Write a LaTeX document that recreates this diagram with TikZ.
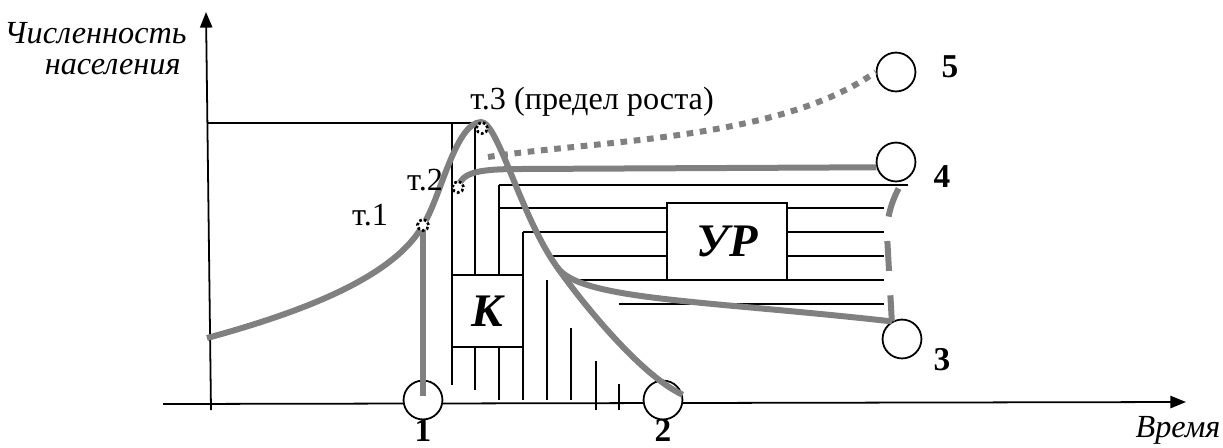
\documentclass[tikz,border=0pt]{standalone}
\usepackage{fontspec}
\setmainfont{Liberation Serif}
\usetikzlibrary{arrows.meta}
\definecolor{ink}{HTML}{000000}
\definecolor{curve}{HTML}{808080}
\tikzset{
  font=\fontsize{14.5}{17}\selectfont,
  >={Triangle[length=7pt, width=5.5pt]},
  %
  axis/.style={draw=ink, line width=0.8pt, ->},
  grid/.style={draw=ink, line width=0.8pt},
  outcome/.style={circle, draw=ink, line width=0.8pt, fill=white,
                  minimum size=17.5pt, inner sep=0pt},
  tpoint/.style={circle, draw=ink, densely dotted, line width=1.2pt,
                 fill=white, minimum size=5pt, inner sep=0pt},
  block/.style={draw=ink, line width=0.8pt, fill=white, inner sep=0pt,
                font=\fontsize{21}{24}\selectfont\bfseries\itshape},
  %
  trend/.style={draw=curve, line width=2.7pt},
  trenddot/.style={trend, dash pattern=on 3pt off 3pt},
  trenddash/.style={trend, dash pattern=on 13.5pt off 11pt, dash phase=20.9pt},
  %
  lbl/.style={inner sep=0pt},
  num/.style={lbl, font=\fontsize{15}{17}\selectfont\bfseries},
  axlbl/.style={lbl, font=\fontsize{14.5}{17}\selectfont\itshape},
}

\begin{document}
\begin{tikzpicture}[x=0.45pt, y=-0.45pt]
\useasboundingbox (0,0) rectangle (1223,447);

% axes
\draw[axis] (163,404) -- (1186,402);
\draw[axis] (211,410) -- (206,12);

% growth limit and hatching
\draw[grid] (207,123) -- (475,123);
\foreach \x/\a/\b in {452/123/385, 475/123/390, 499/185/400, 523/232/400,
                      547/280/400, 571/328/400, 596/361/410, 619/384/410}
  \draw[grid] (\x,\a) -- (\x,\b);
\foreach \y/\a/\b in {185/499/908, 208/499/884, 232/523/884,
                      256/547/884, 280/571/884, 304/619/884}
  \draw[grid] (\a,\y) -- (\b,\y);

\node[block, minimum width=32pt, minimum height=32.4pt] (K) at (487.5,311) {К};
\node[block, minimum width=54pt, minimum height=34.7pt] (UR) at (727,241.5) {УР};

% outcomes
\node[outcome] (c1) at (423,400) {};
\node[outcome] (c2) at (663,400) {};
\node[outcome] (c3) at (902,339) {};
\node[outcome] (c4) at (896,162) {};
\node[outcome] (c5) at (896,72) {};

\coordinate (s0) at (207,338);
\coordinate (p1) at (423,225);
\coordinate (p2) at (458,187);
\coordinate (p3) at (482,128);
\coordinate (top) at (481,122);
\coordinate (split) at (557,267);
\coordinate (lim) at (488,157);

% population curves
\draw[trend] (s0) .. controls (310,310) and (395,275) .. (p1)
  .. controls (440,200) and (455,123) .. (top)
  .. controls (498,122) and (520,215) .. (split)
  .. controls (580,300) and (640,375) .. (c2.15);
\draw[trend] (p1) -- ([yshift=2pt]c1.center);
\draw[trend] (p2) .. controls (462,172) and (480,169) .. (520,169) -- (c4.195);
\draw[trend] (split) .. controls (580,300) and (700,300) .. (c3.120);
\draw[trenddot] (lim) .. controls (600,140) and (780,140) .. (c5.west);
\draw[trenddash] (c4.-72) .. controls (895,195) and (887,210) .. (887,235) -- (c3.120);

\node[tpoint] (m1) at (p1) {};
\node[tpoint] (m2) at (p2) {};
\node[tpoint] (m3) at (p3) {};

% labels
\node[lbl] (l1) at (370,215) {т.1};
\node[lbl] (l2) at (425,180) {т.2};
\node[lbl] (l3) at (592,102) {т.3 (предел роста)};
\node[num] (n1) at (423,430) {1};
\node[num] (n2) at (663,430) {2};
\node[num] (n3) at (942,360) {3};
\node[num] (n4) at (942,177) {4};
\node[num] (n5) at (950,67) {5};
\node[axlbl, anchor=east] (ylbl1) at (187,33) {Численность};
\node[axlbl, anchor=east] (ylbl2) at (181,67) {населения};
\node[axlbl] (xlbl) at (1178,430) {Время};

\end{tikzpicture}
\end{document}
